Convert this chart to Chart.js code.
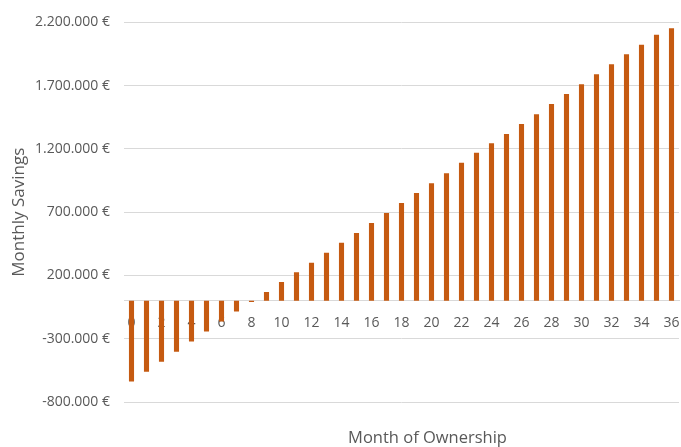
<!DOCTYPE html>
<html>
<head>
<meta charset="utf-8">
<style>
  html, body { margin: 0; padding: 0; background: #fff; }
  #wrap { width: 681px; height: 447px; }
</style>
<script src="https://cdn.jsdelivr.net/npm/chart.js@4/dist/chart.umd.min.js"></script>
</head>
<body>
<div id="wrap"><canvas id="savings-chart"></canvas></div>
<script>
// months of ownership 0..36
const months = [0, 1, 2, 3, 4, 5, 6, 7, 8, 9, 10, 11, 12, 13, 14, 15, 16, 17, 18,
  19, 20, 21, 22, 23, 24, 25, 26, 27, 28, 29, 30, 31, 32, 33, 34, 35, 36];
// savings per month (EUR)
const savings = [-638000, -560000, -481000, -403000, -321000, -242000, -164000,
  -85000, -9000, 69000, 148000, 226000, 300000, 379000, 458000, 536000, 615000,
  693000, 772000, 851000, 929000, 1008000, 1091000, 1170000, 1244000, 1319000,
  1398000, 1474000, 1555000, 1634000, 1712000, 1791000, 1870000, 1948000,
  2024000, 2103000, 2153000];
const yMin = -800000;
const yMax = 2200000;
const yStep = 500000;
const xTitle = "Month of Ownership";
const yTitle = "Monthly Savings";

const fontFamily = "'Open Sans', sans-serif";
const textColor = "#595959";

function euro(v) {
  var s = String(Math.abs(Math.round(v))).replace(/\B(?=(\d{3})+(?!\d))/g, ".");
  return (v < 0 ? "-" : "") + s + " €";
}

// x axis sits on the zero line, so its title is drawn down at the bottom here
const bottomTitle = {
  id: "bottomTitle",
  afterDraw(chart) {
    const c = chart.ctx;
    const area = chart.chartArea;
    c.save();
    c.font = "16.5px " + fontFamily;
    c.fillStyle = textColor;
    c.textAlign = "center";
    c.textBaseline = "middle";
    c.fillText(xTitle, (area.left + area.right) / 2 + 26, 438);
    c.restore();
  },
};

const ctx = document.getElementById("savings-chart");
const savingsChart = new Chart(ctx, {
  type: "bar",
  data: {
    labels: months,
    datasets: [
      {
        label: yTitle,
        data: savings,
        backgroundColor: "#c55a11",
        borderWidth: 0,
        categoryPercentage: 1,
        barPercentage: 0.34,
      },
    ],
  },
  options: {
    responsive: true,
    maintainAspectRatio: false,
    animation: false,
    layout: { padding: { top: 21, right: 2, bottom: 45, left: 0 } },
    plugins: {
      legend: { display: false },
      tooltip: { enabled: false },
    },
    scales: {
      x: {
        position: { y: 0 },
        z: 1,
        grid: { display: false, drawTicks: false },
        border: { display: true, color: "#d9d9d9", width: 1 },
        ticks: {
          autoSkip: false,
          maxRotation: 0,
          padding: 14,
          color: textColor,
          font: { family: fontFamily, size: 14 },
          callback: function (value, index) {
            return months[index] % 2 === 0 ? String(months[index]) : "";
          },
        },
        afterFit: function (scale) {
          scale.paddingLeft = 0;
          scale.paddingRight = 0;
        },
      },
      y: {
        min: yMin,
        max: yMax,
        ticks: {
          stepSize: yStep,
          padding: 14,
          color: textColor,
          font: { family: fontFamily, size: 14 },
          callback: (v) => euro(v),
        },
        grid: { color: "#d9d9d9", lineWidth: 1, drawTicks: false },
        border: { display: false },
        title: {
          display: true,
          text: yTitle,
          color: textColor,
          font: { family: fontFamily, size: 17 },
          padding: { top: 9, bottom: 0 },
        },
        afterFit: function (scale) {
          scale.width = 124;
        },
      },
    },
  },
  plugins: [bottomTitle],
});
</script>
</body>
</html>
